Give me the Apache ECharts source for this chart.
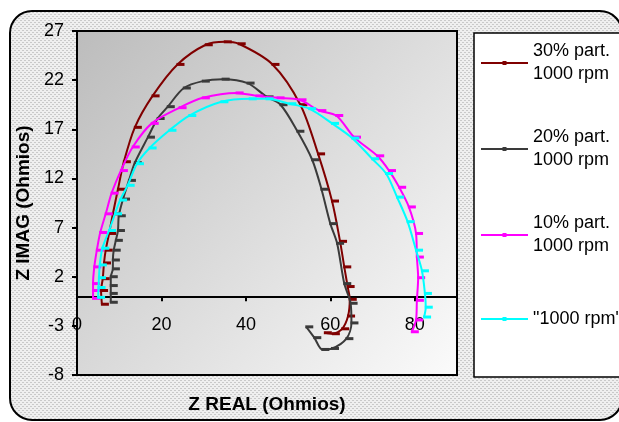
<!DOCTYPE html>
<html>
<head>
<meta charset="utf-8">
<script src="https://cdn.jsdelivr.net/npm/echarts@6/dist/echarts.min.js"></script>
<style>
  html, body { margin: 0; padding: 0; background: #fff; }
  #chart { width: 619px; height: 422px; }
</style>
</head>
<body>
<div id="chart"></div>
<script>
// Nyquist data: [Z real, Z imag]
const part30 = [
  [5.9, -0.8], [5.7, 0.6], [6.1, 1.8], [6.4, 3.4], [6.8, 4.7], [7.6, 6.4], [8.5, 8.4],
  [9.7, 10.9], [11.1, 13.7], [13.7, 17.2], [17.9, 20.4], [23.8, 23.6], [30.5, 25.6],
  [35.0, 25.9], [38.3, 25.7], [46.3, 23.6], [52.9, 19.5], [57.1, 14.5], [60.4, 9.7],
  [62.3, 5.6], [63.3, 3.0], [64.1, 1.0], [64.6, -0.3], [64.2, -2.0], [62.8, -3.3],
  [60.6, -3.8], [58.7, -3.7]
];
const part20 = [
  [8.0, -0.6], [8.0, 0.3], [8.0, 1.1], [8.0, 2.0], [8.5, 2.8], [8.5, 3.7], [8.7, 4.7],
  [9.2, 5.7], [9.7, 6.7], [9.9, 8.2], [10.9, 9.9], [12.3, 11.8], [13.7, 13.6], [16.8, 16.2],
  [19.1, 18.1], [21.5, 19.3], [25.3, 21.2], [29.8, 21.9], [34.5, 22.1], [40.4, 21.7],
  [44.9, 20.3], [48.2, 19.5], [52.2, 16.8], [55.7, 13.9], [57.9, 10.9], [60.0, 7.4],
  [61.6, 5.4], [63.3, 1.3], [64.8, -0.7], [65.0, -2.7], [63.8, -4.3], [60.4, -5.3],
  [58.1, -5.4], [56.2, -4.2], [54.3, -3.1]
];
const part10 = [
  [3.8, -0.2], [3.8, 0.6], [3.8, 1.3], [4.1, 3.0], [4.7, 4.7], [5.5, 6.5], [6.8, 8.4],
  [8.2, 10.5], [10.4, 12.8], [13.2, 15.2], [17.7, 17.6], [24.3, 19.2], [29.8, 20.2],
  [37.8, 20.7], [42.5, 20.4], [47.5, 20.2], [52.7, 20.0], [57.4, 18.9], [61.4, 18.4],
  [65.6, 16.2], [71.1, 14.3], [73.9, 12.8], [76.3, 11.1], [78.6, 9.1], [80.3, 6.4],
  [80.5, 4.0], [80.8, 1.9], [80.5, -0.4], [80.3, -2.4], [79.3, -3.6]
];
const rpm1000 = [
  [5.0, -0.1], [5.1, 0.9], [5.2, 1.9], [5.4, 3.2], [6.0, 4.9], [7.6, 6.7], [9.0, 8.4],
  [10.2, 9.8], [12.0, 11.3], [14.2, 13.5], [17.2, 15.1], [21.9, 16.9], [26.6, 18.4],
  [34.2, 19.8], [40.9, 20.1], [44.9, 20.1], [50.3, 19.6], [55.0, 19.1], [60.4, 17.6],
  [65.2, 16.1], [69.9, 14.0], [73.2, 12.5], [75.8, 10.1], [78.3, 7.6], [80.3, 4.7],
  [81.7, 2.6], [82.4, 0.3], [82.6, -1.1], [82.2, -2.1]
];
const seriesNames = ['30% part.\n1000 rpm', '20% part.\n1000 rpm', '10% part.\n1000 rpm', '"1000 rpm"'];
const seriesData = [part30, part20, part10, rpm1000];
const seriesColors = ['#800000', '#3a3a3a', '#ff00ff', '#00ffff'];
const xMin = 0, xMax = 90, xStep = 20;
const yMin = -8, yMax = 27, yStep = 5;

const font = '"Liberation Sans", Arial, sans-serif';

// plot box in pixels
const gridTop = 31, gridH = 344;
// the x axis sits on Z IMAG = 0, so shift it up from the grid bottom
const xAxisShift = gridH * (0 - yMin) / (yMax - yMin);

// dotted chart-area fill like the Excel texture
const pat = document.createElement('canvas');
pat.width = 4; pat.height = 4;
const pc = pat.getContext('2d');
pc.fillStyle = '#efefef';
pc.fillRect(0, 0, 4, 4);
pc.fillStyle = '#c9c9c9';
pc.fillRect(0, 0, 2, 1);
pc.fillRect(2, 2, 2, 1);

const legendTops = [24.5, 110.5, 196.5, 304.5];
const legendPad = [31, 31, 31, 6];

const chart = echarts.init(document.getElementById('chart'));
chart.setOption({
  animation: false,
  textStyle: { fontFamily: font },
  graphic: [
    {
      type: 'rect', z: -10,
      shape: { x: 10, y: 11, width: 612, height: 409, r: 22 },
      style: { fill: { image: pat, repeat: 'repeat' }, stroke: '#000', lineWidth: 2 }
    },
    {
      type: 'rect', z: -9,
      shape: { x: 474, y: 33, width: 160, height: 344 },
      style: { fill: '#fff', stroke: '#000', lineWidth: 1.5 }
    }
  ],
  grid: {
    left: 77, top: gridTop, width: 380, height: gridH,
    outerBoundsMode: 'none',
    containLabel: false,
    show: true,
    borderColor: '#000',
    borderWidth: 2,
    backgroundColor: new echarts.graphic.LinearGradient(0, 0, 1, 1, [
      { offset: 0, color: '#bcbcbc' },
      { offset: 1, color: '#fbfbfb' }
    ])
  },
  legend: seriesNames.map((n, i) => ({
    data: [n],
    left: 480,
    top: legendTops[i],
    padding: 0,
    itemWidth: 47,
    itemHeight: 5,
    selectedMode: false,
    textStyle: {
      fontFamily: font, fontSize: 18, color: '#000',
      lineHeight: 23, padding: [legendPad[i], 0, 0, 0]
    }
  })),
  xAxis: {
    type: 'value',
    min: xMin, max: xMax, interval: xStep,
    offset: -xAxisShift,
    name: 'Z REAL (Ohmios)',
    nameLocation: 'middle',
    nameGap: 99,
    nameTextStyle: { fontFamily: font, fontSize: 19, fontWeight: 'bold', color: '#000' },
    axisLine: { onZero: false, lineStyle: { color: '#000', width: 2 } },
    axisTick: { show: true, length: 5, lineStyle: { color: '#000', width: 2 } },
    axisLabel: {
      fontFamily: font, fontSize: 18, color: '#000', margin: 20,
      showMaxLabel: false
    },
    splitLine: { show: false }
  },
  yAxis: {
    type: 'value',
    min: yMin, max: yMax, interval: yStep,
    name: 'Z IMAG (Ohmios)',
    nameLocation: 'middle',
    nameRotate: 90,
    nameGap: 36,
    nameTextStyle: { fontFamily: font, fontSize: 19, fontWeight: 'bold', color: '#000' },
    axisLine: { show: true, lineStyle: { color: '#000', width: 2 } },
    axisTick: { show: true, length: 5, lineStyle: { color: '#000', width: 2 } },
    axisLabel: { fontFamily: font, fontSize: 18, color: '#000', margin: 13 },
    splitLine: { show: false }
  },
  series: seriesNames.map((n, i) => ({
    name: n,
    type: 'line',
    data: seriesData[i],
    smooth: 0.3,
    symbol: 'rect',
    symbolSize: [8, 3],
    symbolOffset: [3, 0],
    showSymbol: true,
    color: seriesColors[i],
    lineStyle: { color: seriesColors[i], width: 2 },
    itemStyle: { color: seriesColors[i] },
    z: 3 + i
  }))
});
</script>
</body>
</html>
